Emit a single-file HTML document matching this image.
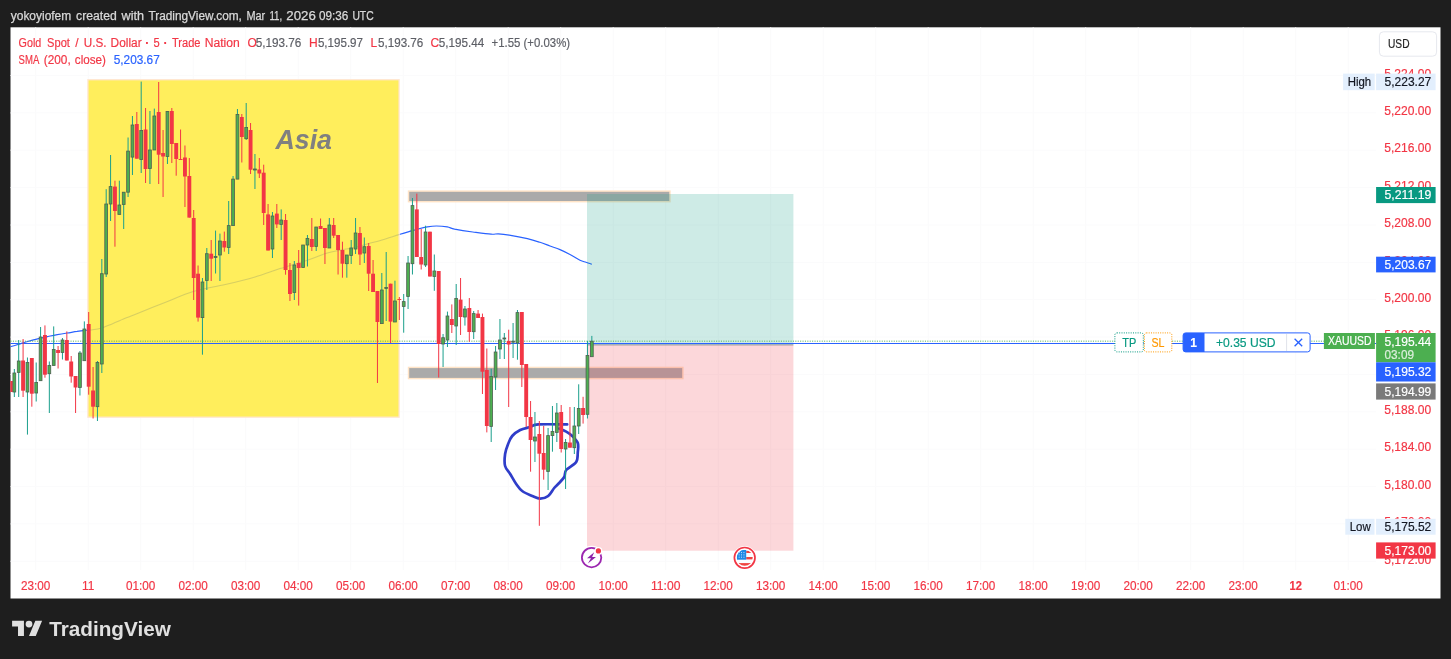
<!DOCTYPE html><html><head><meta charset="utf-8"><title>TradingView chart</title>
<style>html,body{margin:0;padding:0;background:#1e1e1e;overflow:hidden}svg{display:block;filter:blur(0.3px)}text{font-family:"Liberation Sans",sans-serif}</style></head><body>
<svg width="1451" height="659" viewBox="0 0 1451 659">
<rect width="1451" height="659" fill="#1e1e1e"/>
<rect x="10.5" y="27.3" width="1430" height="571.2" fill="#fff"/>
<defs><clipPath id="cc"><rect x="10.5" y="27.3" width="1365.5" height="545"/></clipPath><clipPath id="cb"><rect x="88" y="79.6" width="311" height="337.3"/></clipPath></defs>
<text x="10.75" y="20" font-size="12" fill="#d9d9d9" stroke="#d9d9d9" stroke-width="0.25" textLength="60.5" lengthAdjust="spacingAndGlyphs">yokoyiofem</text>
<text x="76.1" y="20" font-size="12" fill="#d9d9d9" stroke="#d9d9d9" stroke-width="0.25" textLength="40.7" lengthAdjust="spacingAndGlyphs">created</text>
<text x="121.6" y="20" font-size="12" fill="#d9d9d9" stroke="#d9d9d9" stroke-width="0.25" textLength="22.5" lengthAdjust="spacingAndGlyphs">with</text>
<text x="148.4" y="20" font-size="12" fill="#d9d9d9" stroke="#d9d9d9" stroke-width="0.25" textLength="93.5" lengthAdjust="spacingAndGlyphs">TradingView.com,</text>
<text x="246.4" y="20" font-size="12" fill="#d9d9d9" stroke="#d9d9d9" stroke-width="0.25" textLength="18.8" lengthAdjust="spacingAndGlyphs">Mar</text>
<text x="269.4" y="20" font-size="12" fill="#d9d9d9" stroke="#d9d9d9" stroke-width="0.25" textLength="12.8" lengthAdjust="spacingAndGlyphs">11,</text>
<text x="286.3" y="20" font-size="12" fill="#d9d9d9" stroke="#d9d9d9" stroke-width="0.25" textLength="29.5" lengthAdjust="spacingAndGlyphs">2026</text>
<text x="318.9" y="20" font-size="12" fill="#d9d9d9" stroke="#d9d9d9" stroke-width="0.25" textLength="29.4" lengthAdjust="spacingAndGlyphs">09:36</text>
<text x="352.4" y="20" font-size="12" fill="#d9d9d9" stroke="#d9d9d9" stroke-width="0.25" textLength="21.3" lengthAdjust="spacingAndGlyphs">UTC</text>
<path d="M35.7 27.3V570 M88.2 27.3V570 M140.7 27.3V570 M193.2 27.3V570 M245.7 27.3V570 M298.2 27.3V570 M350.7 27.3V570 M403.2 27.3V570 M455.7 27.3V570 M508.2 27.3V570 M560.7 27.3V570 M613.2 27.3V570 M665.7 27.3V570 M718.2 27.3V570 M770.7 27.3V570 M823.2 27.3V570 M875.7 27.3V570 M928.2 27.3V570 M980.7 27.3V570 M1033.2 27.3V570 M1085.7 27.3V570 M1138.2 27.3V570 M1190.7 27.3V570 M1243.2 27.3V570 M1295.7 27.3V570 M1348.2 27.3V570" stroke="#fafafb" stroke-width="1" fill="none"/>
<path d="M10.5 75.5H1376 M10.5 112.9H1376 M10.5 150.2H1376 M10.5 187.6H1376 M10.5 225.0H1376 M10.5 262.4H1376 M10.5 299.7H1376 M10.5 337.1H1376 M10.5 374.5H1376 M10.5 411.8H1376 M10.5 449.2H1376 M10.5 486.6H1376 M10.5 523.9H1376 M10.5 561.3H1376" stroke="#fbfbfc" stroke-width="1" fill="none"/>
<path d="M8.0 347.4C9.7 346.9 14.6 345.5 17.9 344.5C21.2 343.5 24.4 342.4 27.7 341.5C31.0 340.6 34.3 339.7 37.6 338.9C40.9 338.1 44.2 337.3 47.5 336.6C50.8 335.9 54.0 335.2 57.3 334.6C60.6 334.0 63.9 333.5 67.2 333.0C70.5 332.5 74.1 331.8 77.1 331.4C80.1 330.9 82.4 330.6 85.0 330.3C87.6 330.0 90.3 330.0 92.9 329.7C95.5 329.4 97.5 329.3 100.8 328.3C104.1 327.3 108.3 325.4 112.6 323.7C116.9 321.9 122.7 319.3 126.4 317.8C130.1 316.3 128.6 317.1 135.0 314.5C141.4 311.9 155.3 306.3 165.0 302.5C174.7 298.7 183.2 294.5 193.3 291.5C203.4 288.5 215.0 286.9 225.3 284.5C235.6 282.1 245.9 279.6 255.0 277.0C264.1 274.4 271.3 271.4 280.0 268.6C288.7 265.8 299.7 262.8 307.3 260.3C314.9 257.8 320.1 255.3 325.5 253.6C330.9 251.9 335.4 251.1 340.0 250.2C344.6 249.2 348.4 248.9 353.0 247.9C357.6 246.9 362.6 245.2 367.4 243.9C372.2 242.6 376.7 241.6 382.0 240.0C387.3 238.4 394.7 235.9 399.2 234.5C403.7 233.1 405.8 232.5 409.0 231.6C412.2 230.7 415.1 229.8 418.2 229.0C421.2 228.2 424.3 227.4 427.3 226.9C430.3 226.4 433.1 226.0 436.4 226.0C439.7 226.0 444.3 226.4 447.3 226.9C450.3 227.4 450.4 228.3 454.6 229.2C458.9 230.0 466.7 231.2 472.8 232.0C478.9 232.8 486.8 233.9 491.0 234.2C495.2 234.5 495.3 233.7 498.3 233.8C501.3 234.0 504.4 234.3 509.2 235.1C514.0 235.9 522.3 237.5 527.4 238.7C532.5 239.9 536.2 241.1 540.0 242.3C543.8 243.5 546.7 244.8 550.0 246.0C553.3 247.2 556.7 248.2 560.0 249.6C563.3 251.0 566.7 252.7 570.0 254.5C573.3 256.3 577.3 258.9 580.0 260.2C582.7 261.5 584.0 261.6 586.0 262.3C588.0 263.0 590.9 264.0 591.9 264.3" fill="none" stroke="#2962ff" stroke-width="1.2" stroke-linejoin="round" clip-path="url(#cc)"/>
<rect x="87.9" y="79.7" width="311.2" height="337.5" fill="#ffee5c" stroke="#ffe6d2" stroke-width="1.3"/>
<path d="M8.0 347.4C9.7 346.9 14.6 345.5 17.9 344.5C21.2 343.5 24.4 342.4 27.7 341.5C31.0 340.6 34.3 339.7 37.6 338.9C40.9 338.1 44.2 337.3 47.5 336.6C50.8 335.9 54.0 335.2 57.3 334.6C60.6 334.0 63.9 333.5 67.2 333.0C70.5 332.5 74.1 331.8 77.1 331.4C80.1 330.9 82.4 330.6 85.0 330.3C87.6 330.0 90.3 330.0 92.9 329.7C95.5 329.4 97.5 329.3 100.8 328.3C104.1 327.3 108.3 325.4 112.6 323.7C116.9 321.9 122.7 319.3 126.4 317.8C130.1 316.3 128.6 317.1 135.0 314.5C141.4 311.9 155.3 306.3 165.0 302.5C174.7 298.7 183.2 294.5 193.3 291.5C203.4 288.5 215.0 286.9 225.3 284.5C235.6 282.1 245.9 279.6 255.0 277.0C264.1 274.4 271.3 271.4 280.0 268.6C288.7 265.8 299.7 262.8 307.3 260.3C314.9 257.8 320.1 255.3 325.5 253.6C330.9 251.9 335.4 251.1 340.0 250.2C344.6 249.2 348.4 248.9 353.0 247.9C357.6 246.9 362.6 245.2 367.4 243.9C372.2 242.6 376.7 241.6 382.0 240.0C387.3 238.4 394.7 235.9 399.2 234.5C403.7 233.1 405.8 232.5 409.0 231.6C412.2 230.7 415.1 229.8 418.2 229.0C421.2 228.2 424.3 227.4 427.3 226.9C430.3 226.4 433.1 226.0 436.4 226.0C439.7 226.0 444.3 226.4 447.3 226.9C450.3 227.4 450.4 228.3 454.6 229.2C458.9 230.0 466.7 231.2 472.8 232.0C478.9 232.8 486.8 233.9 491.0 234.2C495.2 234.5 495.3 233.7 498.3 233.8C501.3 234.0 504.4 234.3 509.2 235.1C514.0 235.9 522.3 237.5 527.4 238.7C532.5 239.9 536.2 241.1 540.0 242.3C543.8 243.5 546.7 244.8 550.0 246.0C553.3 247.2 556.7 248.2 560.0 249.6C563.3 251.0 566.7 252.7 570.0 254.5C573.3 256.3 577.3 258.9 580.0 260.2C582.7 261.5 584.0 261.6 586.0 262.3C588.0 263.0 590.9 264.0 591.9 264.3" fill="none" stroke="#8a946c" stroke-opacity="0.34" stroke-width="1.1" clip-path="url(#cb)"/>
<text x="275.5" y="149.1" font-size="27.5" font-weight="bold" font-style="italic" fill="#808080" textLength="56.5" lengthAdjust="spacingAndGlyphs">Asia</text>
<rect x="408.5" y="191.1" width="261.5" height="10.6" fill="#aaaaaa" stroke="#ffe3c6" stroke-width="1.4"/>
<rect x="408.5" y="367.4" width="274.4" height="11.2" fill="#aaaaaa" stroke="#ffe3c6" stroke-width="1.4"/>
<rect x="587" y="194" width="206.4" height="151" fill="#089981" fill-opacity="0.2"/>
<rect x="587" y="345" width="206.4" height="205.7" fill="#f23645" fill-opacity="0.2"/>
<path d="M587 344.9H793.4" stroke="#787b86" stroke-width="1" opacity="0.8"/>
<path d="M10.5 341.2H1376" stroke="#4caf50" stroke-width="1.5" stroke-dasharray="1.1 1.3" opacity="0.6"/>
<path d="M10.5 343.5H1376" stroke="#2962ff" stroke-width="1"/>
<path d="M567.2 424.4C562.4 424.4 544.4 424.0 538.2 424.4C532.0 424.8 533.2 426.1 530.2 427.0C527.2 427.9 523.2 428.5 520.2 430.0C517.2 431.5 514.2 433.7 512.2 436.0C510.2 438.3 509.3 441.0 508.1 444.0C506.9 447.0 505.6 450.3 505.1 454.0C504.6 457.7 504.2 462.7 505.1 466.0C506.0 469.3 508.3 471.0 510.2 474.0C512.0 477.0 514.2 481.2 516.2 484.0C518.2 486.8 519.5 489.0 522.2 491.0C524.9 493.0 529.2 494.7 532.2 496.0C535.2 497.3 537.5 498.7 540.2 498.7C542.9 498.7 545.9 497.8 548.2 496.0C550.5 494.2 552.5 490.0 554.2 488.0C555.9 486.0 556.5 485.8 558.2 484.0C559.9 482.2 562.9 479.3 564.2 477.0C565.5 474.7 564.2 472.5 566.2 470.0C568.2 467.5 574.3 465.0 576.2 462.0C578.1 459.0 577.5 455.2 577.8 452.0C578.1 448.8 578.7 445.7 577.8 443.0C576.9 440.3 574.1 437.9 572.2 436.0C570.3 434.1 568.4 432.8 566.2 431.6C564.0 430.4 560.4 429.1 559.2 428.6" fill="none" stroke="#2f3dc9" stroke-width="2.7" stroke-linejoin="round" stroke-linecap="round"/>
<g clip-path="url(#cc)">
<path d="M10.90 381V392" stroke="#f23645" stroke-width="1.0"/>
<rect x="8.95" y="381" width="3.9" height="11.0" fill="#f23645"/>
<path d="M14.33 369V397" stroke="#1a9f8c" stroke-width="1.0"/>
<rect x="12.93" y="373" width="2.8" height="19.0" fill="#4caf50" stroke="#4f5f52" stroke-width="0.8"/>
<path d="M18.70 340V397" stroke="#1a9f8c" stroke-width="1.0"/>
<rect x="17.30" y="361" width="2.8" height="11.5" fill="#4caf50" stroke="#4f5f52" stroke-width="0.8"/>
<path d="M23.08 339V397" stroke="#f23645" stroke-width="1.0"/>
<rect x="21.13" y="360.5" width="3.9" height="30.2" fill="#f23645"/>
<path d="M27.45 357.5V434.6" stroke="#1a9f8c" stroke-width="1.0"/>
<rect x="26.05" y="362.5" width="2.8" height="29.5" fill="#4caf50" stroke="#4f5f52" stroke-width="0.8"/>
<path d="M31.83 358V406.7" stroke="#f23645" stroke-width="1.0"/>
<rect x="29.88" y="358" width="3.9" height="35.7" fill="#f23645"/>
<path d="M36.20 362.5V401.5" stroke="#1a9f8c" stroke-width="1.0"/>
<rect x="34.80" y="382.5" width="2.8" height="10.5" fill="#4caf50" stroke="#4f5f52" stroke-width="0.8"/>
<path d="M40.58 327V380.7" stroke="#1a9f8c" stroke-width="1.0"/>
<rect x="39.18" y="337" width="2.8" height="43.7" fill="#4caf50" stroke="#4f5f52" stroke-width="0.8"/>
<path d="M44.95 325.4V377.7" stroke="#f23645" stroke-width="1.0"/>
<rect x="43.00" y="335" width="3.9" height="39.7" fill="#f23645"/>
<path d="M49.33 361.5V413" stroke="#1a9f8c" stroke-width="1.0"/>
<rect x="47.93" y="365.5" width="2.8" height="8.2" fill="#4caf50" stroke="#4f5f52" stroke-width="0.8"/>
<path d="M53.70 326.4V365.5" stroke="#1a9f8c" stroke-width="1.0"/>
<rect x="52.30" y="349.4" width="2.8" height="16.1" fill="#4caf50" stroke="#4f5f52" stroke-width="0.8"/>
<path d="M58.08 346V368.5" stroke="#f23645" stroke-width="1.0"/>
<rect x="56.12" y="350" width="3.9" height="3.0" fill="#f23645"/>
<path d="M62.45 338V359.5" stroke="#1a9f8c" stroke-width="1.0"/>
<rect x="61.05" y="340" width="2.8" height="12.5" fill="#4caf50" stroke="#4f5f52" stroke-width="0.8"/>
<path d="M66.83 331.4V360.5" stroke="#f23645" stroke-width="1.0"/>
<rect x="64.88" y="340" width="3.9" height="20.5" fill="#f23645"/>
<path d="M71.20 356V382.7" stroke="#f23645" stroke-width="1.0"/>
<rect x="69.25" y="361.5" width="3.9" height="15.0" fill="#f23645"/>
<path d="M75.58 376V413" stroke="#f23645" stroke-width="1.0"/>
<rect x="73.62" y="376" width="3.9" height="11.5" fill="#f23645"/>
<path d="M79.95 351V395.5" stroke="#1a9f8c" stroke-width="1.0"/>
<rect x="78.55" y="353" width="2.8" height="34.5" fill="#4caf50" stroke="#4f5f52" stroke-width="0.8"/>
<path d="M84.33 321.4V360.7" stroke="#1a9f8c" stroke-width="1.0"/>
<rect x="82.92" y="329" width="2.8" height="31.7" fill="#4caf50" stroke="#4f5f52" stroke-width="0.8"/>
<path d="M88.70 312V394.7" stroke="#f23645" stroke-width="1.0"/>
<rect x="86.75" y="324" width="3.9" height="62.7" fill="#f23645"/>
<path d="M93.08 367V418.5" stroke="#f23645" stroke-width="1.0"/>
<rect x="91.12" y="390.5" width="3.9" height="16.2" fill="#f23645"/>
<path d="M97.45 361V421" stroke="#1a9f8c" stroke-width="1.0"/>
<rect x="96.05" y="362.5" width="2.8" height="44.2" fill="#4caf50" stroke="#4f5f52" stroke-width="0.8"/>
<path d="M101.83 259V373" stroke="#1a9f8c" stroke-width="1.0"/>
<rect x="100.42" y="273.7" width="2.8" height="90.3" fill="#4caf50" stroke="#4f5f52" stroke-width="0.8"/>
<path d="M106.20 189.2V277" stroke="#1a9f8c" stroke-width="1.0"/>
<rect x="104.80" y="204" width="2.8" height="70.0" fill="#4caf50" stroke="#4f5f52" stroke-width="0.8"/>
<path d="M110.58 155V221" stroke="#1a9f8c" stroke-width="1.0"/>
<rect x="109.17" y="186.6" width="2.8" height="17.4" fill="#4caf50" stroke="#4f5f52" stroke-width="0.8"/>
<path d="M114.95 180.7V246.7" stroke="#f23645" stroke-width="1.0"/>
<rect x="113.00" y="186.6" width="3.9" height="24.4" fill="#f23645"/>
<path d="M119.33 180.7V214.4" stroke="#1a9f8c" stroke-width="1.0"/>
<rect x="117.92" y="205" width="2.8" height="9.4" fill="#4caf50" stroke="#4f5f52" stroke-width="0.8"/>
<path d="M123.70 192.2V229" stroke="#1a9f8c" stroke-width="1.0"/>
<rect x="122.30" y="192.2" width="2.8" height="12.4" fill="#4caf50" stroke="#4f5f52" stroke-width="0.8"/>
<path d="M128.07 137.5V197" stroke="#1a9f8c" stroke-width="1.0"/>
<rect x="126.67" y="151.1" width="2.8" height="41.1" fill="#4caf50" stroke="#4f5f52" stroke-width="0.8"/>
<path d="M132.45 116V175" stroke="#1a9f8c" stroke-width="1.0"/>
<rect x="131.05" y="125" width="2.8" height="32.1" fill="#4caf50" stroke="#4f5f52" stroke-width="0.8"/>
<path d="M136.82 112V158.7" stroke="#f23645" stroke-width="1.0"/>
<rect x="134.88" y="124" width="3.9" height="34.7" fill="#f23645"/>
<path d="M141.20 81.6V173" stroke="#1a9f8c" stroke-width="1.0"/>
<rect x="139.80" y="130.5" width="2.8" height="29.0" fill="#4caf50" stroke="#4f5f52" stroke-width="0.8"/>
<path d="M145.57 108V183" stroke="#f23645" stroke-width="1.0"/>
<rect x="143.62" y="129.5" width="3.9" height="39.5" fill="#f23645"/>
<path d="M149.95 111V184" stroke="#1a9f8c" stroke-width="1.0"/>
<rect x="148.55" y="150" width="2.8" height="18.5" fill="#4caf50" stroke="#4f5f52" stroke-width="0.8"/>
<path d="M154.32 108.6V150" stroke="#1a9f8c" stroke-width="1.0"/>
<rect x="152.92" y="116" width="2.8" height="34.0" fill="#4caf50" stroke="#4f5f52" stroke-width="0.8"/>
<path d="M158.70 82V184" stroke="#f23645" stroke-width="1.0"/>
<rect x="156.75" y="112" width="3.9" height="42.7" fill="#f23645"/>
<path d="M163.07 130V197" stroke="#f23645" stroke-width="1.0"/>
<rect x="161.12" y="153" width="3.9" height="3.5" fill="#f23645"/>
<path d="M167.45 111V164" stroke="#1a9f8c" stroke-width="1.0"/>
<rect x="166.05" y="111.5" width="2.8" height="45.0" fill="#4caf50" stroke="#4f5f52" stroke-width="0.8"/>
<path d="M171.82 108V163" stroke="#f23645" stroke-width="1.0"/>
<rect x="169.88" y="111" width="3.9" height="33.0" fill="#f23645"/>
<path d="M176.20 143V175.7" stroke="#f23645" stroke-width="1.0"/>
<rect x="174.25" y="143" width="3.9" height="16.0" fill="#f23645"/>
<path d="M180.57 129.5V160" stroke="#f23645" stroke-width="1.0"/>
<rect x="178.62" y="159" width="3.9" height="1.0" fill="#f23645"/>
<path d="M184.95 145.5V207" stroke="#f23645" stroke-width="1.0"/>
<rect x="183.00" y="157.5" width="3.9" height="19.0" fill="#f23645"/>
<path d="M189.32 158V217.6" stroke="#f23645" stroke-width="1.0"/>
<rect x="187.38" y="176" width="3.9" height="41.6" fill="#f23645"/>
<path d="M193.70 210V300" stroke="#f23645" stroke-width="1.0"/>
<rect x="191.75" y="218" width="3.9" height="60.0" fill="#f23645"/>
<path d="M198.07 265.5V321.6" stroke="#f23645" stroke-width="1.0"/>
<rect x="196.12" y="273.7" width="3.9" height="43.9" fill="#f23645"/>
<path d="M202.45 278V354.7" stroke="#1a9f8c" stroke-width="1.0"/>
<rect x="201.05" y="282" width="2.8" height="35.6" fill="#4caf50" stroke="#4f5f52" stroke-width="0.8"/>
<path d="M206.82 248V290" stroke="#1a9f8c" stroke-width="1.0"/>
<rect x="205.42" y="253.7" width="2.8" height="26.8" fill="#4caf50" stroke="#4f5f52" stroke-width="0.8"/>
<path d="M211.20 240V281" stroke="#f23645" stroke-width="1.0"/>
<rect x="209.25" y="253.7" width="3.9" height="5.0" fill="#f23645"/>
<path d="M215.57 230.6V273.5" stroke="#1a9f8c" stroke-width="1.0"/>
<rect x="214.17" y="256.5" width="2.8" height="1.0" fill="#4caf50" stroke="#4f5f52" stroke-width="0.8"/>
<path d="M219.95 233.6V281" stroke="#1a9f8c" stroke-width="1.0"/>
<rect x="218.55" y="241" width="2.8" height="14.0" fill="#4caf50" stroke="#4f5f52" stroke-width="0.8"/>
<path d="M224.32 231.6V251.7" stroke="#f23645" stroke-width="1.0"/>
<rect x="222.38" y="241" width="3.9" height="6.5" fill="#f23645"/>
<path d="M228.70 201V254" stroke="#1a9f8c" stroke-width="1.0"/>
<rect x="227.30" y="225.6" width="2.8" height="21.9" fill="#4caf50" stroke="#4f5f52" stroke-width="0.8"/>
<path d="M233.07 176V225.6" stroke="#1a9f8c" stroke-width="1.0"/>
<rect x="231.67" y="179.1" width="2.8" height="46.5" fill="#4caf50" stroke="#4f5f52" stroke-width="0.8"/>
<path d="M237.45 109V179.1" stroke="#1a9f8c" stroke-width="1.0"/>
<rect x="236.05" y="114.5" width="2.8" height="64.6" fill="#4caf50" stroke="#4f5f52" stroke-width="0.8"/>
<path d="M241.82 114V162.5" stroke="#f23645" stroke-width="1.0"/>
<rect x="239.88" y="117" width="3.9" height="20.0" fill="#f23645"/>
<path d="M246.20 103V140" stroke="#1a9f8c" stroke-width="1.0"/>
<rect x="244.80" y="127.5" width="2.8" height="11.2" fill="#4caf50" stroke="#4f5f52" stroke-width="0.8"/>
<path d="M250.57 123V174" stroke="#f23645" stroke-width="1.0"/>
<rect x="248.62" y="130" width="3.9" height="39.7" fill="#f23645"/>
<path d="M254.95 154V189" stroke="#1a9f8c" stroke-width="1.0"/>
<rect x="253.55" y="169" width="2.8" height="1.0" fill="#4caf50" stroke="#4f5f52" stroke-width="0.8"/>
<path d="M259.32 158V178" stroke="#f23645" stroke-width="1.0"/>
<rect x="257.38" y="169.5" width="3.9" height="4.0" fill="#f23645"/>
<path d="M263.70 164.7V225" stroke="#f23645" stroke-width="1.0"/>
<rect x="261.75" y="172.7" width="3.9" height="40.3" fill="#f23645"/>
<path d="M268.07 204V250.5" stroke="#f23645" stroke-width="1.0"/>
<rect x="266.12" y="214.4" width="3.9" height="36.1" fill="#f23645"/>
<path d="M272.45 212V258" stroke="#1a9f8c" stroke-width="1.0"/>
<rect x="271.05" y="216" width="2.8" height="33.0" fill="#4caf50" stroke="#4f5f52" stroke-width="0.8"/>
<path d="M276.82 204V228" stroke="#f23645" stroke-width="1.0"/>
<rect x="274.88" y="213.6" width="3.9" height="10.8" fill="#f23645"/>
<path d="M281.20 209.4V240" stroke="#1a9f8c" stroke-width="1.0"/>
<rect x="279.80" y="220" width="2.8" height="4.4" fill="#4caf50" stroke="#4f5f52" stroke-width="0.8"/>
<path d="M285.57 214V274.7" stroke="#f23645" stroke-width="1.0"/>
<rect x="283.62" y="220" width="3.9" height="50.0" fill="#f23645"/>
<path d="M289.95 263V301" stroke="#f23645" stroke-width="1.0"/>
<rect x="288.00" y="270" width="3.9" height="24.0" fill="#f23645"/>
<path d="M294.32 261V300" stroke="#1a9f8c" stroke-width="1.0"/>
<rect x="292.93" y="265" width="2.8" height="27.5" fill="#4caf50" stroke="#4f5f52" stroke-width="0.8"/>
<path d="M298.70 250V305.6" stroke="#f23645" stroke-width="1.0"/>
<rect x="296.75" y="263" width="3.9" height="5.0" fill="#f23645"/>
<path d="M303.07 245V267.5" stroke="#1a9f8c" stroke-width="1.0"/>
<rect x="301.68" y="245" width="2.8" height="22.5" fill="#4caf50" stroke="#4f5f52" stroke-width="0.8"/>
<path d="M307.45 235V266.5" stroke="#1a9f8c" stroke-width="1.0"/>
<rect x="306.05" y="238.5" width="2.8" height="6.5" fill="#4caf50" stroke="#4f5f52" stroke-width="0.8"/>
<path d="M311.82 218V251" stroke="#f23645" stroke-width="1.0"/>
<rect x="309.88" y="239" width="3.9" height="8.0" fill="#f23645"/>
<path d="M316.20 227V251" stroke="#1a9f8c" stroke-width="1.0"/>
<rect x="314.80" y="227" width="2.8" height="19.5" fill="#4caf50" stroke="#4f5f52" stroke-width="0.8"/>
<path d="M320.57 218.5V229" stroke="#f23645" stroke-width="1.0"/>
<rect x="318.62" y="226" width="3.9" height="3.0" fill="#f23645"/>
<path d="M324.95 228V264" stroke="#f23645" stroke-width="1.0"/>
<rect x="323.00" y="228" width="3.9" height="20.0" fill="#f23645"/>
<path d="M329.32 218V248" stroke="#1a9f8c" stroke-width="1.0"/>
<rect x="327.93" y="225" width="2.8" height="23.0" fill="#4caf50" stroke="#4f5f52" stroke-width="0.8"/>
<path d="M333.70 218V238" stroke="#f23645" stroke-width="1.0"/>
<rect x="331.75" y="225" width="3.9" height="10.7" fill="#f23645"/>
<path d="M338.07 235V274.5" stroke="#f23645" stroke-width="1.0"/>
<rect x="336.12" y="235" width="3.9" height="15.0" fill="#f23645"/>
<path d="M342.45 241.7V277.7" stroke="#f23645" stroke-width="1.0"/>
<rect x="340.50" y="250" width="3.9" height="13.7" fill="#f23645"/>
<path d="M346.82 255V277.7" stroke="#1a9f8c" stroke-width="1.0"/>
<rect x="345.43" y="255" width="2.8" height="8.7" fill="#4caf50" stroke="#4f5f52" stroke-width="0.8"/>
<path d="M351.20 240V264" stroke="#1a9f8c" stroke-width="1.0"/>
<rect x="349.80" y="248" width="2.8" height="7.5" fill="#4caf50" stroke="#4f5f52" stroke-width="0.8"/>
<path d="M355.57 218V254" stroke="#1a9f8c" stroke-width="1.0"/>
<rect x="354.18" y="233" width="2.8" height="16.0" fill="#4caf50" stroke="#4f5f52" stroke-width="0.8"/>
<path d="M359.95 227V265" stroke="#f23645" stroke-width="1.0"/>
<rect x="358.00" y="233" width="3.9" height="21.5" fill="#f23645"/>
<path d="M364.32 237.5V263" stroke="#1a9f8c" stroke-width="1.0"/>
<rect x="362.93" y="246.7" width="2.8" height="6.3" fill="#4caf50" stroke="#4f5f52" stroke-width="0.8"/>
<path d="M368.70 243V291" stroke="#f23645" stroke-width="1.0"/>
<rect x="366.75" y="246" width="3.9" height="27.7" fill="#f23645"/>
<path d="M373.07 260V292" stroke="#f23645" stroke-width="1.0"/>
<rect x="371.12" y="273.7" width="3.9" height="18.3" fill="#f23645"/>
<path d="M377.45 291V383" stroke="#f23645" stroke-width="1.0"/>
<rect x="375.50" y="291" width="3.9" height="31.0" fill="#f23645"/>
<path d="M381.82 273V323.6" stroke="#1a9f8c" stroke-width="1.0"/>
<rect x="380.43" y="290" width="2.8" height="33.6" fill="#4caf50" stroke="#4f5f52" stroke-width="0.8"/>
<path d="M386.20 252V321" stroke="#1a9f8c" stroke-width="1.0"/>
<rect x="384.80" y="287.5" width="2.8" height="1.0" fill="#4caf50" stroke="#4f5f52" stroke-width="0.8"/>
<path d="M390.57 283.7V343" stroke="#f23645" stroke-width="1.0"/>
<rect x="388.62" y="283.7" width="3.9" height="37.9" fill="#f23645"/>
<path d="M394.95 280.7V322" stroke="#1a9f8c" stroke-width="1.0"/>
<rect x="393.55" y="301" width="2.8" height="21.0" fill="#4caf50" stroke="#4f5f52" stroke-width="0.8"/>
<path d="M399.32 297V320" stroke="#f23645" stroke-width="1.0"/>
<rect x="397.38" y="299" width="3.9" height="1.0" fill="#f23645"/>
<path d="M403.70 294V332.7" stroke="#1a9f8c" stroke-width="1.0"/>
<rect x="402.30" y="301.6" width="2.8" height="4.8" fill="#4caf50" stroke="#4f5f52" stroke-width="0.8"/>
<path d="M408.07 256V309" stroke="#1a9f8c" stroke-width="1.0"/>
<rect x="406.68" y="263" width="2.8" height="33.5" fill="#4caf50" stroke="#4f5f52" stroke-width="0.8"/>
<path d="M412.45 198V274.5" stroke="#1a9f8c" stroke-width="1.0"/>
<rect x="411.05" y="205.6" width="2.8" height="58.1" fill="#4caf50" stroke="#4f5f52" stroke-width="0.8"/>
<path d="M416.82 193.6V257" stroke="#f23645" stroke-width="1.0"/>
<rect x="414.88" y="209.4" width="3.9" height="47.6" fill="#f23645"/>
<path d="M421.20 229V269.5" stroke="#f23645" stroke-width="1.0"/>
<rect x="419.25" y="257" width="3.9" height="7.5" fill="#f23645"/>
<path d="M425.57 225.7V267" stroke="#1a9f8c" stroke-width="1.0"/>
<rect x="424.18" y="232" width="2.8" height="33.0" fill="#4caf50" stroke="#4f5f52" stroke-width="0.8"/>
<path d="M429.95 231.7V276.5" stroke="#f23645" stroke-width="1.0"/>
<rect x="428.00" y="231.7" width="3.9" height="44.8" fill="#f23645"/>
<path d="M434.32 254.5V290.8" stroke="#1a9f8c" stroke-width="1.0"/>
<rect x="432.93" y="271" width="2.8" height="5.5" fill="#4caf50" stroke="#4f5f52" stroke-width="0.8"/>
<path d="M438.70 271V377.5" stroke="#f23645" stroke-width="1.0"/>
<rect x="436.75" y="271" width="3.9" height="73.0" fill="#f23645"/>
<path d="M443.07 334V367" stroke="#1a9f8c" stroke-width="1.0"/>
<rect x="441.68" y="337.7" width="2.8" height="6.3" fill="#4caf50" stroke="#4f5f52" stroke-width="0.8"/>
<path d="M447.45 311.6V347" stroke="#1a9f8c" stroke-width="1.0"/>
<rect x="446.05" y="316" width="2.8" height="24.0" fill="#4caf50" stroke="#4f5f52" stroke-width="0.8"/>
<path d="M451.82 304.4V333" stroke="#f23645" stroke-width="1.0"/>
<rect x="449.88" y="319" width="3.9" height="6.0" fill="#f23645"/>
<path d="M456.20 284V345" stroke="#1a9f8c" stroke-width="1.0"/>
<rect x="454.80" y="298.4" width="2.8" height="27.6" fill="#4caf50" stroke="#4f5f52" stroke-width="0.8"/>
<path d="M460.57 278V335" stroke="#f23645" stroke-width="1.0"/>
<rect x="458.62" y="299.6" width="3.9" height="17.4" fill="#f23645"/>
<path d="M464.95 306V325.6" stroke="#1a9f8c" stroke-width="1.0"/>
<rect x="463.55" y="309" width="2.8" height="8.0" fill="#4caf50" stroke="#4f5f52" stroke-width="0.8"/>
<path d="M469.32 298V341.7" stroke="#f23645" stroke-width="1.0"/>
<rect x="467.38" y="308" width="3.9" height="24.0" fill="#f23645"/>
<path d="M473.70 311V339" stroke="#1a9f8c" stroke-width="1.0"/>
<rect x="472.30" y="313.6" width="2.8" height="18.1" fill="#4caf50" stroke="#4f5f52" stroke-width="0.8"/>
<path d="M478.07 310V318" stroke="#f23645" stroke-width="1.0"/>
<rect x="476.12" y="313.6" width="3.9" height="4.4" fill="#f23645"/>
<path d="M482.45 313.6V394" stroke="#f23645" stroke-width="1.0"/>
<rect x="480.50" y="317" width="3.9" height="54.7" fill="#f23645"/>
<path d="M486.82 348.5V432.4" stroke="#f23645" stroke-width="1.0"/>
<rect x="484.88" y="370" width="3.9" height="56.0" fill="#f23645"/>
<path d="M491.20 368.7V442" stroke="#1a9f8c" stroke-width="1.0"/>
<rect x="489.80" y="376.5" width="2.8" height="49.9" fill="#4caf50" stroke="#4f5f52" stroke-width="0.8"/>
<path d="M495.57 346V390" stroke="#1a9f8c" stroke-width="1.0"/>
<rect x="494.18" y="352" width="2.8" height="25.0" fill="#4caf50" stroke="#4f5f52" stroke-width="0.8"/>
<path d="M499.95 319V359" stroke="#1a9f8c" stroke-width="1.0"/>
<rect x="498.55" y="340" width="2.8" height="9.0" fill="#4caf50" stroke="#4f5f52" stroke-width="0.8"/>
<path d="M504.32 333V359" stroke="#1a9f8c" stroke-width="1.0"/>
<rect x="502.93" y="338" width="2.8" height="1.0" fill="#4caf50" stroke="#4f5f52" stroke-width="0.8"/>
<path d="M508.70 329.7V407" stroke="#f23645" stroke-width="1.0"/>
<rect x="506.75" y="341" width="3.9" height="3.5" fill="#f23645"/>
<path d="M513.08 323V358" stroke="#1a9f8c" stroke-width="1.0"/>
<rect x="511.68" y="341.2" width="2.8" height="1.0" fill="#4caf50" stroke="#4f5f52" stroke-width="0.8"/>
<path d="M517.45 310V359.7" stroke="#1a9f8c" stroke-width="1.0"/>
<rect x="516.05" y="312.6" width="2.8" height="30.4" fill="#4caf50" stroke="#4f5f52" stroke-width="0.8"/>
<path d="M521.83 312V387" stroke="#f23645" stroke-width="1.0"/>
<rect x="519.88" y="312" width="3.9" height="53.0" fill="#f23645"/>
<path d="M526.20 364V427" stroke="#f23645" stroke-width="1.0"/>
<rect x="524.25" y="364" width="3.9" height="53.0" fill="#f23645"/>
<path d="M530.58 401V471.7" stroke="#f23645" stroke-width="1.0"/>
<rect x="528.62" y="417" width="3.9" height="23.0" fill="#f23645"/>
<path d="M534.95 412V462" stroke="#1a9f8c" stroke-width="1.0"/>
<rect x="533.55" y="437" width="2.8" height="4.0" fill="#4caf50" stroke="#4f5f52" stroke-width="0.8"/>
<path d="M539.33 421V525.8" stroke="#f23645" stroke-width="1.0"/>
<rect x="537.38" y="434" width="3.9" height="19.7" fill="#f23645"/>
<path d="M543.70 426V479.7" stroke="#f23645" stroke-width="1.0"/>
<rect x="541.75" y="453" width="3.9" height="16.7" fill="#f23645"/>
<path d="M548.08 428V490" stroke="#1a9f8c" stroke-width="1.0"/>
<rect x="546.68" y="435.6" width="2.8" height="35.9" fill="#4caf50" stroke="#4f5f52" stroke-width="0.8"/>
<path d="M552.45 406V451.7" stroke="#1a9f8c" stroke-width="1.0"/>
<rect x="551.05" y="431.4" width="2.8" height="4.2" fill="#4caf50" stroke="#4f5f52" stroke-width="0.8"/>
<path d="M556.83 403V442" stroke="#1a9f8c" stroke-width="1.0"/>
<rect x="555.43" y="413" width="2.8" height="19.4" fill="#4caf50" stroke="#4f5f52" stroke-width="0.8"/>
<path d="M561.20 405V452.5" stroke="#f23645" stroke-width="1.0"/>
<rect x="559.25" y="412" width="3.9" height="37.0" fill="#f23645"/>
<path d="M565.58 439V489" stroke="#1a9f8c" stroke-width="1.0"/>
<rect x="564.18" y="442.5" width="2.8" height="6.5" fill="#4caf50" stroke="#4f5f52" stroke-width="0.8"/>
<path d="M569.95 407V447.7" stroke="#f23645" stroke-width="1.0"/>
<rect x="568.00" y="442.5" width="3.9" height="5.2" fill="#f23645"/>
<path d="M574.33 407V454" stroke="#1a9f8c" stroke-width="1.0"/>
<rect x="572.93" y="426" width="2.8" height="21.7" fill="#4caf50" stroke="#4f5f52" stroke-width="0.8"/>
<path d="M578.70 384.3V434" stroke="#1a9f8c" stroke-width="1.0"/>
<rect x="577.30" y="408.4" width="2.8" height="17.6" fill="#4caf50" stroke="#4f5f52" stroke-width="0.8"/>
<path d="M583.08 396.8V423.6" stroke="#f23645" stroke-width="1.0"/>
<rect x="581.12" y="408" width="3.9" height="7.0" fill="#f23645"/>
<path d="M587.45 340.9V418.5" stroke="#1a9f8c" stroke-width="1.0"/>
<rect x="586.05" y="355.4" width="2.8" height="58.9" fill="#4caf50" stroke="#4f5f52" stroke-width="0.8"/>
<path d="M591.83 335.9V356.7" stroke="#1a9f8c" stroke-width="1.0"/>
<rect x="590.43" y="341.2" width="2.8" height="15.5" fill="#4caf50" stroke="#4f5f52" stroke-width="0.8"/>
</g>
<g transform="translate(591.6 557.6)"><circle r="11.8" fill="#fff"/><circle r="9.7" fill="#fff" stroke="#9c27b0" stroke-width="1.8"/><path d="M2.6 -5.3L-4.6 0.7H-0.6L-3.7 5.9L4.4 -0.7H0.5Z" fill="#8e24aa"/><circle cx="6.8" cy="-6.7" r="4" fill="#fff"/><circle cx="6.8" cy="-6.7" r="2.6" fill="#f23645"/></g>
<g transform="translate(744.7 557.8)"><circle r="11.8" fill="#fff"/><circle r="10.3" fill="#fff" stroke="#f23645" stroke-width="1.7"/><clipPath id="fc"><circle r="8"/></clipPath><g clip-path="url(#fc)"><rect x="-8" y="-8" width="16" height="16" fill="#fafcff"/><rect x="1.5" y="-7" width="7" height="2.2" fill="#ef4340"/><rect x="1.5" y="-0.8" width="7" height="2.4" fill="#ef4340"/><rect x="-8" y="5.3" width="16" height="3" fill="#ef4340"/><rect x="-8" y="-8" width="9.5" height="9.9" fill="#1e88e5"/><path d="M-5.6 -5.2h0.1M-3.2 -5.2h0.1M-0.8 -5.2h0.1M-5.6 -2.9h0.1M-3.2 -2.9h0.1M-0.8 -2.9h0.1M-5.6 -0.6h0.1M-3.2 -0.6h0.1M-0.8 -0.6h0.1" stroke="#fff" stroke-width="1" stroke-linecap="round" opacity="0.85"/></g></g>
<text x="18.6" y="47.1" font-size="12" fill="#f23645" stroke="#f23645" stroke-width="0.18" textLength="22.7" lengthAdjust="spacingAndGlyphs">Gold</text>
<text x="47.1" y="47.1" font-size="12" fill="#f23645" stroke="#f23645" stroke-width="0.18" textLength="22.8" lengthAdjust="spacingAndGlyphs">Spot</text>
<text x="75.2" y="47.1" font-size="12" fill="#f23645" stroke="#f23645" stroke-width="0.18">/</text>
<text x="83.7" y="47.1" font-size="12" fill="#f23645" stroke="#f23645" stroke-width="0.18" textLength="22.8" lengthAdjust="spacingAndGlyphs">U.S.</text>
<text x="110.6" y="47.1" font-size="12" fill="#f23645" stroke="#f23645" stroke-width="0.18" textLength="31.0" lengthAdjust="spacingAndGlyphs">Dollar</text>
<text x="145.2" y="47.1" font-size="12" fill="#f23645" stroke="#f23645" stroke-width="0.18" font-weight="bold">·</text>
<text x="153.4" y="47.1" font-size="12" fill="#f23645" stroke="#f23645" stroke-width="0.18" textLength="6.2" lengthAdjust="spacingAndGlyphs">5</text>
<text x="163.4" y="47.1" font-size="12" fill="#f23645" stroke="#f23645" stroke-width="0.18" font-weight="bold">·</text>
<text x="172" y="47.1" font-size="12" fill="#f23645" stroke="#f23645" stroke-width="0.18" textLength="28.5" lengthAdjust="spacingAndGlyphs">Trade</text>
<text x="204.7" y="47.1" font-size="12" fill="#f23645" stroke="#f23645" stroke-width="0.18" textLength="35.1" lengthAdjust="spacingAndGlyphs">Nation</text>
<text x="247.5" y="47.1" font-size="12" fill="#f23645" stroke="#f23645" stroke-width="0.18">O</text>
<text x="255.7" y="47.1" font-size="12" fill="#5d5f66" stroke="#5d5f66" stroke-width="0.18" textLength="45.7" lengthAdjust="spacingAndGlyphs">5,193.76</text>
<text x="309" y="47.1" font-size="12" fill="#f23645" stroke="#f23645" stroke-width="0.18">H</text>
<text x="317.9" y="47.1" font-size="12" fill="#5d5f66" stroke="#5d5f66" stroke-width="0.18" textLength="45.1" lengthAdjust="spacingAndGlyphs">5,195.97</text>
<text x="370.6" y="47.1" font-size="12" fill="#f23645" stroke="#f23645" stroke-width="0.18">L</text>
<text x="378" y="47.1" font-size="12" fill="#5d5f66" stroke="#5d5f66" stroke-width="0.18" textLength="45.3" lengthAdjust="spacingAndGlyphs">5,193.76</text>
<text x="430.6" y="47.1" font-size="12" fill="#f23645" stroke="#f23645" stroke-width="0.18">C</text>
<text x="438.8" y="47.1" font-size="12" fill="#5d5f66" stroke="#5d5f66" stroke-width="0.18" textLength="45.5" lengthAdjust="spacingAndGlyphs">5,195.44</text>
<text x="491.6" y="47.1" font-size="12" fill="#5d5f66" stroke="#5d5f66" stroke-width="0.18" textLength="78.5" lengthAdjust="spacingAndGlyphs">+1.55 (+0.03%)</text>
<text x="18.6" y="63.7" font-size="12" fill="#f23645" stroke="#f23645" stroke-width="0.18" textLength="20.7" lengthAdjust="spacingAndGlyphs">SMA</text>
<text x="43.8" y="63.7" font-size="12" fill="#f23645" stroke="#f23645" stroke-width="0.18" textLength="26.9" lengthAdjust="spacingAndGlyphs">(200,</text>
<text x="74.8" y="63.7" font-size="12" fill="#f23645" stroke="#f23645" stroke-width="0.18" textLength="31.1" lengthAdjust="spacingAndGlyphs">close)</text>
<text x="113.7" y="63.7" font-size="12" fill="#2962ff" stroke="#2962ff" stroke-width="0.18" textLength="46.1" lengthAdjust="spacingAndGlyphs">5,203.67</text>
<rect x="1379.4" y="31.8" width="57.2" height="24.4" rx="4" fill="#fff" stroke="#e6e8ee" stroke-width="1"/>
<text x="1388" y="47.8" font-size="12" fill="#222" stroke="#222" stroke-width="0.18" textLength="21.5" lengthAdjust="spacingAndGlyphs">USD</text>
<text x="1384.3" y="77.7" font-size="12" fill="#f23645" stroke="#f23645" stroke-width="0.18" textLength="46.8" lengthAdjust="spacingAndGlyphs">5,224.00</text>
<text x="1384.3" y="115.1" font-size="12" fill="#f23645" stroke="#f23645" stroke-width="0.18" textLength="46.8" lengthAdjust="spacingAndGlyphs">5,220.00</text>
<text x="1384.3" y="152.4" font-size="12" fill="#f23645" stroke="#f23645" stroke-width="0.18" textLength="46.8" lengthAdjust="spacingAndGlyphs">5,216.00</text>
<text x="1384.3" y="189.8" font-size="12" fill="#f23645" stroke="#f23645" stroke-width="0.18" textLength="46.8" lengthAdjust="spacingAndGlyphs">5,212.00</text>
<text x="1384.3" y="227.2" font-size="12" fill="#f23645" stroke="#f23645" stroke-width="0.18" textLength="46.8" lengthAdjust="spacingAndGlyphs">5,208.00</text>
<text x="1384.3" y="264.6" font-size="12" fill="#f23645" stroke="#f23645" stroke-width="0.18" textLength="46.8" lengthAdjust="spacingAndGlyphs">5,204.00</text>
<text x="1384.3" y="301.9" font-size="12" fill="#f23645" stroke="#f23645" stroke-width="0.18" textLength="46.8" lengthAdjust="spacingAndGlyphs">5,200.00</text>
<text x="1384.3" y="339.3" font-size="12" fill="#f23645" stroke="#f23645" stroke-width="0.18" textLength="46.8" lengthAdjust="spacingAndGlyphs">5,196.00</text>
<text x="1384.3" y="376.7" font-size="12" fill="#f23645" stroke="#f23645" stroke-width="0.18" textLength="46.8" lengthAdjust="spacingAndGlyphs">5,192.00</text>
<text x="1384.3" y="414.0" font-size="12" fill="#f23645" stroke="#f23645" stroke-width="0.18" textLength="46.8" lengthAdjust="spacingAndGlyphs">5,188.00</text>
<text x="1384.3" y="451.4" font-size="12" fill="#f23645" stroke="#f23645" stroke-width="0.18" textLength="46.8" lengthAdjust="spacingAndGlyphs">5,184.00</text>
<text x="1384.3" y="488.8" font-size="12" fill="#f23645" stroke="#f23645" stroke-width="0.18" textLength="46.8" lengthAdjust="spacingAndGlyphs">5,180.00</text>
<text x="1384.3" y="526.1" font-size="12" fill="#f23645" stroke="#f23645" stroke-width="0.18" textLength="46.8" lengthAdjust="spacingAndGlyphs">5,176.00</text>
<text x="1384.3" y="563.5" font-size="12" fill="#f23645" stroke="#f23645" stroke-width="0.18" textLength="46.8" lengthAdjust="spacingAndGlyphs">5,172.00</text>
<rect x="1376.1" y="73.6" width="59.5" height="16.6" fill="#e3effd"/>
<rect x="1343.1" y="73.6" width="31.6" height="16.6" fill="#e3effd"/>
<text x="1347.7" y="86.2" font-size="12" fill="#131722" stroke="#131722" stroke-width="0.18" textLength="23.5" lengthAdjust="spacingAndGlyphs">High</text>
<text x="1384.5" y="86.2" font-size="12" fill="#131722" stroke="#131722" stroke-width="0.18" textLength="46.8" lengthAdjust="spacingAndGlyphs">5,223.27</text>
<rect x="1376.1" y="187" width="59.5" height="16.1" fill="#089981"/>
<text x="1384.5" y="199.4" font-size="12" fill="#fff" stroke="#fff" stroke-width="0.18" textLength="46.8" lengthAdjust="spacingAndGlyphs">5,211.19</text>
<rect x="1376.1" y="256.7" width="59.5" height="15.7" fill="#2962ff"/>
<text x="1384.5" y="268.9" font-size="12" fill="#fff" stroke="#fff" stroke-width="0.18" textLength="46.8" lengthAdjust="spacingAndGlyphs">5,203.67</text>
<rect x="1376.1" y="333" width="59.5" height="29.3" fill="#4caf50"/>
<text x="1384.5" y="345.6" font-size="12" fill="#fff" stroke="#fff" stroke-width="0.18" textLength="46.8" lengthAdjust="spacingAndGlyphs">5,195.44</text>
<text x="1384.5" y="358.6" font-size="12" fill="#dcefdc" stroke="#dcefdc" stroke-width="0.18" textLength="29.5" lengthAdjust="spacingAndGlyphs">03:09</text>
<rect x="1376.1" y="362.3" width="59.5" height="19.2" fill="#2962ff"/>
<text x="1384.5" y="376" font-size="12" fill="#fff" stroke="#fff" stroke-width="0.18" textLength="46.8" lengthAdjust="spacingAndGlyphs">5,195.32</text>
<rect x="1376.1" y="383.4" width="59.5" height="16.2" fill="#7a7a7a"/>
<text x="1384.5" y="395.7" font-size="12" fill="#fff" stroke="#fff" stroke-width="0.18" textLength="46.8" lengthAdjust="spacingAndGlyphs">5,194.99</text>
<rect x="1376.1" y="518.8" width="59.5" height="15.9" fill="#e3effd"/>
<rect x="1345.3" y="518.8" width="29.2" height="15.9" fill="#e3effd"/>
<text x="1349.7" y="531" font-size="12" fill="#131722" stroke="#131722" stroke-width="0.18" textLength="21" lengthAdjust="spacingAndGlyphs">Low</text>
<text x="1384.5" y="531" font-size="12" fill="#131722" stroke="#131722" stroke-width="0.18" textLength="46.8" lengthAdjust="spacingAndGlyphs">5,175.52</text>
<rect x="1376.1" y="542.4" width="59.5" height="16.2" fill="#f23645"/>
<text x="1384.5" y="554.8" font-size="12" fill="#fff" stroke="#fff" stroke-width="0.18" textLength="46.8" lengthAdjust="spacingAndGlyphs">5,173.00</text>
<rect x="1114.9" y="332.9" width="28.4" height="19" rx="2" fill="#fff" stroke="#089981" stroke-width="1" stroke-dasharray="1 1.3"/>
<text x="1122.3" y="346.8" font-size="12" fill="#089981" stroke="#089981" stroke-width="0.18" textLength="14" lengthAdjust="spacingAndGlyphs">TP</text>
<rect x="1144.4" y="332.9" width="27.4" height="19" rx="2" fill="#fff" stroke="#ff9800" stroke-width="1" stroke-dasharray="1 1.3"/>
<text x="1151.5" y="346.8" font-size="12" fill="#ff9800" stroke="#ff9800" stroke-width="0.18" textLength="13" lengthAdjust="spacingAndGlyphs">SL</text>
<rect x="1183.1" y="332.9" width="127" height="19" rx="2.5" fill="#fff" stroke="#2962ff" stroke-width="1"/>
<path d="M1185.6 332.9H1204.5V351.9H1185.6a2.5 2.5 0 0 1 -2.5 -2.5V335.4a2.5 2.5 0 0 1 2.5 -2.5Z" fill="#2962ff"/>
<text x="1190.2" y="346.8" font-size="12" fill="#fff" stroke="#fff" stroke-width="0.18" font-weight="bold">1</text>
<text x="1216" y="346.8" font-size="12" fill="#089981" stroke="#089981" stroke-width="0.18" textLength="59.5" lengthAdjust="spacingAndGlyphs">+0.35 USD</text>
<path d="M1286.6 334V351" stroke="#e0e3eb" stroke-width="1"/>
<path d="M1294.6 338.7L1302.2 346.3M1302.2 338.7L1294.6 346.3" stroke="#2962ff" stroke-width="1.3" fill="none"/>
<rect x="1323.9" y="333" width="51" height="16" fill="#4caf50"/>
<text x="1328" y="345.4" font-size="12" fill="#fff" stroke="#fff" stroke-width="0.18" textLength="43.5" lengthAdjust="spacingAndGlyphs">XAUUSD</text>
<text x="35.7" y="589.6" font-size="12" fill="#f23645" stroke="#f23645" stroke-width="0.18" textLength="29.4" lengthAdjust="spacingAndGlyphs" text-anchor="middle">23:00</text>
<text x="88.2" y="589.6" font-size="12" fill="#f23645" stroke="#f23645" stroke-width="0.18" textLength="12.4" lengthAdjust="spacingAndGlyphs" text-anchor="middle">11</text>
<text x="140.7" y="589.6" font-size="12" fill="#f23645" stroke="#f23645" stroke-width="0.18" textLength="29.4" lengthAdjust="spacingAndGlyphs" text-anchor="middle">01:00</text>
<text x="193.2" y="589.6" font-size="12" fill="#f23645" stroke="#f23645" stroke-width="0.18" textLength="29.4" lengthAdjust="spacingAndGlyphs" text-anchor="middle">02:00</text>
<text x="245.7" y="589.6" font-size="12" fill="#f23645" stroke="#f23645" stroke-width="0.18" textLength="29.4" lengthAdjust="spacingAndGlyphs" text-anchor="middle">03:00</text>
<text x="298.2" y="589.6" font-size="12" fill="#f23645" stroke="#f23645" stroke-width="0.18" textLength="29.4" lengthAdjust="spacingAndGlyphs" text-anchor="middle">04:00</text>
<text x="350.7" y="589.6" font-size="12" fill="#f23645" stroke="#f23645" stroke-width="0.18" textLength="29.4" lengthAdjust="spacingAndGlyphs" text-anchor="middle">05:00</text>
<text x="403.2" y="589.6" font-size="12" fill="#f23645" stroke="#f23645" stroke-width="0.18" textLength="29.4" lengthAdjust="spacingAndGlyphs" text-anchor="middle">06:00</text>
<text x="455.7" y="589.6" font-size="12" fill="#f23645" stroke="#f23645" stroke-width="0.18" textLength="29.4" lengthAdjust="spacingAndGlyphs" text-anchor="middle">07:00</text>
<text x="508.2" y="589.6" font-size="12" fill="#f23645" stroke="#f23645" stroke-width="0.18" textLength="29.4" lengthAdjust="spacingAndGlyphs" text-anchor="middle">08:00</text>
<text x="560.7" y="589.6" font-size="12" fill="#f23645" stroke="#f23645" stroke-width="0.18" textLength="29.4" lengthAdjust="spacingAndGlyphs" text-anchor="middle">09:00</text>
<text x="613.2" y="589.6" font-size="12" fill="#f23645" stroke="#f23645" stroke-width="0.18" textLength="29.4" lengthAdjust="spacingAndGlyphs" text-anchor="middle">10:00</text>
<text x="665.7" y="589.6" font-size="12" fill="#f23645" stroke="#f23645" stroke-width="0.18" textLength="29.4" lengthAdjust="spacingAndGlyphs" text-anchor="middle">11:00</text>
<text x="718.2" y="589.6" font-size="12" fill="#f23645" stroke="#f23645" stroke-width="0.18" textLength="29.4" lengthAdjust="spacingAndGlyphs" text-anchor="middle">12:00</text>
<text x="770.7" y="589.6" font-size="12" fill="#f23645" stroke="#f23645" stroke-width="0.18" textLength="29.4" lengthAdjust="spacingAndGlyphs" text-anchor="middle">13:00</text>
<text x="823.2" y="589.6" font-size="12" fill="#f23645" stroke="#f23645" stroke-width="0.18" textLength="29.4" lengthAdjust="spacingAndGlyphs" text-anchor="middle">14:00</text>
<text x="875.7" y="589.6" font-size="12" fill="#f23645" stroke="#f23645" stroke-width="0.18" textLength="29.4" lengthAdjust="spacingAndGlyphs" text-anchor="middle">15:00</text>
<text x="928.2" y="589.6" font-size="12" fill="#f23645" stroke="#f23645" stroke-width="0.18" textLength="29.4" lengthAdjust="spacingAndGlyphs" text-anchor="middle">16:00</text>
<text x="980.7" y="589.6" font-size="12" fill="#f23645" stroke="#f23645" stroke-width="0.18" textLength="29.4" lengthAdjust="spacingAndGlyphs" text-anchor="middle">17:00</text>
<text x="1033.2" y="589.6" font-size="12" fill="#f23645" stroke="#f23645" stroke-width="0.18" textLength="29.4" lengthAdjust="spacingAndGlyphs" text-anchor="middle">18:00</text>
<text x="1085.7" y="589.6" font-size="12" fill="#f23645" stroke="#f23645" stroke-width="0.18" textLength="29.4" lengthAdjust="spacingAndGlyphs" text-anchor="middle">19:00</text>
<text x="1138.2" y="589.6" font-size="12" fill="#f23645" stroke="#f23645" stroke-width="0.18" textLength="29.4" lengthAdjust="spacingAndGlyphs" text-anchor="middle">20:00</text>
<text x="1190.7" y="589.6" font-size="12" fill="#f23645" stroke="#f23645" stroke-width="0.18" textLength="29.4" lengthAdjust="spacingAndGlyphs" text-anchor="middle">22:00</text>
<text x="1243.2" y="589.6" font-size="12" fill="#f23645" stroke="#f23645" stroke-width="0.18" textLength="29.4" lengthAdjust="spacingAndGlyphs" text-anchor="middle">23:00</text>
<text x="1295.7" y="589.6" font-size="12" fill="#f23645" stroke="#f23645" stroke-width="0.18" textLength="12.4" lengthAdjust="spacingAndGlyphs" text-anchor="middle" font-weight="bold">12</text>
<text x="1348.2" y="589.6" font-size="12" fill="#f23645" stroke="#f23645" stroke-width="0.18" textLength="29.4" lengthAdjust="spacingAndGlyphs" text-anchor="middle">01:00</text>
<g transform="translate(12.1 617.3) scale(0.845)" fill="#e0e0e0"><path d="M14 22H7V11H0V4h14v18zM28 22h-8l7.5-18h8L28 22z"/><circle cx="20" cy="8" r="4"/></g>
<text x="49.3" y="636" font-size="21" font-weight="bold" fill="#e0e0e0" textLength="121.5" lengthAdjust="spacingAndGlyphs">TradingView</text>
</svg></body></html>
